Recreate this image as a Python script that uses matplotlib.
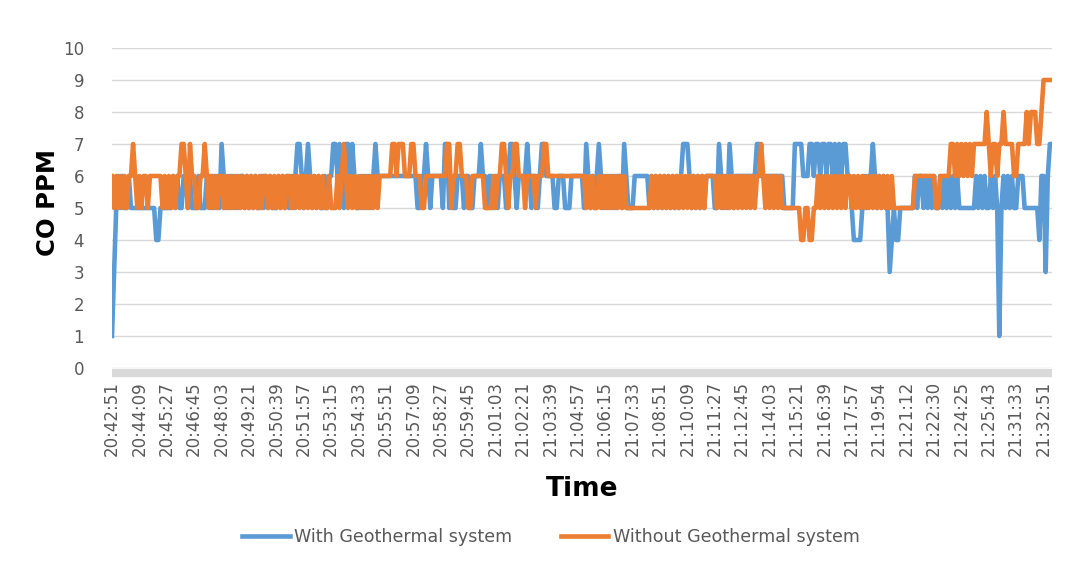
import matplotlib
matplotlib.use("Agg")
import matplotlib.pyplot as plt
import numpy as np

plt.rcParams['font.family'] = ['DejaVu Sans']

# one string per tick interval (13 samples each)
with_geo_segs = [
    "1356565565555", "5555555544555", "5556565566565", "5565556656565",
    "7656565656656", "5656556565655", "5656565656776", "5676565655656",
    "6776765776765", "5656565676666", "6666666666666", "6655667656666",
    "6577565566656", "6556667665665", "6566656776566", "6676566567766",
    "6655666555666", "6665765656765", "6565656657655", "5666666656565",
    "6565656565677", "7656565656666", "5576565765666", "6666666776666",
    "6666666555557", "7776667767767", "7677676767766", "5444456566765",
    "6565534544555", "5555656656565", "6556565656565", "5555555656565",
    "5656515656565", "5666555555546", "63677",
]
without_geo_segs = [
    "6565656566765", "6566566666656", "5656566776576", "6556676565656",
    "6565656565656", "5656565665656", "5656566565656", "5656565656556",
    "5556567656565", "6565656565666", "6667767776667", "7666556666666",
    "6667756677666", "5566666655556", "5667765667766", "6566665666776",
    "6666666666666", "6666565655656", "5656565656555", "5555555556565",
    "6565656565656", "5656565656666", "6565656565656", "5656565667656",
    "5656565555555", "5544554455656", "5656565656566", "5656565656565",
    "6565656555555", "5555666666666", "6556666677676", "7676767777778",
    "7677677877776", "6777787888778", "99999",
]
tick_labels = [
    "20:42:51", "20:44:09", "20:45:27", "20:46:45", "20:48:03", "20:49:21",
    "20:50:39", "20:51:57", "20:53:15", "20:54:33", "20:55:51", "20:57:09",
    "20:58:27", "20:59:45", "21:01:03", "21:02:21", "21:03:39", "21:04:57",
    "21:06:15", "21:07:33", "21:08:51", "21:10:09", "21:11:27", "21:12:45",
    "21:14:03", "21:15:21", "21:16:39", "21:17:57", "21:19:54", "21:21:12",
    "21:22:30", "21:24:25", "21:25:43", "21:31:33", "21:32:51",
]
step = 13

with_geo = [int(c) for s in with_geo_segs for c in s]
without_geo = [int(c) for s in without_geo_segs for c in s]
x = np.arange(len(with_geo))

fig = plt.figure(figsize=(10.8, 5.67), dpi=100)
ax = fig.add_axes([112/1080, 1-368/567, 940/1080, 320/567])

# spine position first: setting it later resets the tick label settings
for s in ['top', 'right', 'left']:
    ax.spines[s].set_visible(False)
ax.spines['bottom'].set_position(('outward', 3.5))
ax.spines['bottom'].set_color('#d9d9d9')
ax.spines['bottom'].set_linewidth(6)
ax.spines['bottom'].set_capstyle('butt')

ax.plot(x, with_geo, color='#5b9bd5', linewidth=3.3, solid_joinstyle='round',
        label='With Geothermal system', zorder=3)
ax.plot(x, without_geo, color='#ed7d31', linewidth=3.3, solid_joinstyle='round',
        label='Without Geothermal system', zorder=4)

ax.set_xlim(0, len(x) - 1)
ax.set_ylim(0, 10)
ax.set_yticks(range(0, 11))
ax.yaxis.grid(True, color='#d9d9d9', linewidth=1)
ax.set_axisbelow(True)

ax.set_xticks(np.arange(len(tick_labels)) * step)
ax.set_xticklabels(tick_labels, rotation=90)

ax.tick_params(axis='y', length=0, pad=20, labelsize=12, labelcolor='#595959')
ax.tick_params(axis='x', length=0, pad=6, labelsize=12, labelcolor='#595959')

fig.text(48/1080, 1-203/567, 'CO PPM', rotation=90, ha='center', va='center',
         fontsize=17.5, fontweight='bold')
fig.text(582/1080, 1-489/567, 'Time', ha='center', va='center',
         fontsize=19, fontweight='bold')

fig.legend(loc='center', bbox_to_anchor=(551/1080, 1-537/567), ncol=2,
           frameon=False, fontsize=12.6, handlelength=2.7, handletextpad=0.25,
           columnspacing=2.8, labelcolor='#595959')

fig.savefig('out.png', dpi=100)
